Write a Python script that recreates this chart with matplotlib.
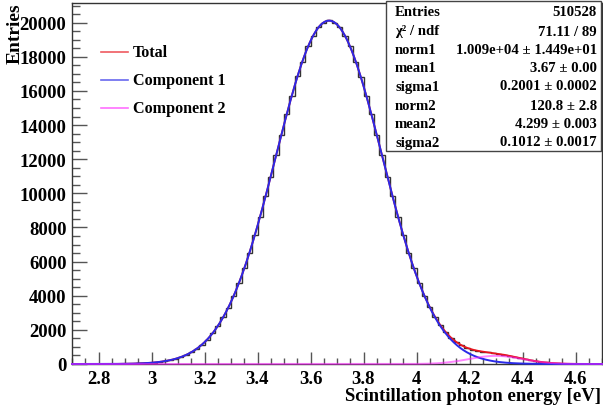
import numpy as np
import matplotlib
matplotlib.use("Agg")
import matplotlib.pyplot as plt
from matplotlib.ticker import MultipleLocator

plt.rcParams['font.family'] = ['Liberation Serif', 'DejaVu Serif']
plt.rcParams['font.weight'] = 'bold'
plt.rcParams['mathtext.fontset'] = 'custom'
plt.rcParams['mathtext.rm'] = 'Liberation Serif:bold'
plt.rcParams['mathtext.it'] = 'Liberation Serif:bold:italic'

# Histogram: 100 bins from 2.7 to 4.7 eV
bin_lo = 2.7
bin_hi = 4.7
counts = [0, 0, 1, 1, 2, 2, 3, 4, 8, 9,
          16, 21, 33, 42, 65, 84, 124, 161, 230, 296,
          408, 520, 695, 879, 1142, 1420, 1808, 2210, 2745, 3300,
          4005, 4730, 5620, 6515, 7580, 8620, 9830, 10960, 12240, 13390,
          14650, 15710, 16850, 17710, 18610, 19190, 19760, 19980, 20150, 19980,
          19750, 19190, 18610, 17720, 16840, 15720, 14640, 13390, 12240, 10960,
          9830, 8620, 7580, 6510, 5630, 4730, 4010, 3330, 2770, 2270,
          1880, 1545, 1300, 1090, 960, 845, 785, 720, 688, 635,
          600, 545, 485, 420, 345, 285, 218, 170, 118, 88,
          55, 38, 21, 14, 8, 5, 2, 1, 1, 0]

# Fit parameters (from stats box)
norm1, mean1, sigma1 = 1.009e4, 3.67, 0.2001
norm2, mean2, sigma2 = 120.8, 4.299, 0.1012

stat_labels = ["Entries", "χ² / ndf", "norm1", "mean1", "sigma1",
               "norm2", "mean2", "sigma2"]
stat_values = ["510528", "71.11 / 89", "1.009e+04 ± 1.449e+01",
               "3.67 ± 0.00", "0.2001 ± 0.0002", "120.8 ± 2.8",
               "4.299 ± 0.003", "0.1012 ± 0.0017"]

legend_labels = ["Total", "Component 1", "Component 2"]

fig = plt.figure(figsize=(6.03, 4.14), dpi=100)
ax = fig.add_axes([72/603, 49/414, 530/603, 361/414])

edges = np.linspace(bin_lo, bin_hi, len(counts) + 1)
ax.stairs(counts, edges, color='#333333', lw=1.0, zorder=2)

xs = np.linspace(bin_lo, bin_hi, 1000)
def gaus(x, n, m, s):
    return n / (np.sqrt(2 * np.pi) * s) * np.exp(-0.5 * ((x - m) / s) ** 2)
c1 = gaus(xs, norm1, mean1, sigma1)
c2 = gaus(xs, norm2, mean2, sigma2)
ax.plot(xs, c1 + c2, color='#e8141e', lw=1.3, zorder=3, clip_on=False)
ax.plot(xs, c1, color='#2a2ae8', lw=1.4, zorder=4, clip_on=False)
ax.plot(xs, c2, color='#ff22ff', lw=1.4, alpha=0.55, zorder=5, clip_on=False)

ax.set_xlim(bin_lo, bin_hi)
ax.set_ylim(0, 21150)
ax.xaxis.set_major_locator(MultipleLocator(0.2))
ax.xaxis.set_minor_locator(MultipleLocator(0.05))
ax.yaxis.set_major_locator(MultipleLocator(2000))
ax.yaxis.set_minor_locator(MultipleLocator(500))
ax.tick_params(axis='x', which='major', direction='in', length=8.6, width=1,
               labelsize=13.5, color='#555555', pad=4)
ax.tick_params(axis='x', which='minor', direction='in', length=4.3, width=1,
               color='#555555')
ax.tick_params(axis='y', which='major', direction='in', length=10.8, width=1,
               labelsize=13.5, color='#555555', pad=4)
ax.tick_params(axis='y', which='minor', direction='in', length=5.8, width=1,
               color='#555555')
ax.tick_params(top=False, right=False, which='both')
ax.set_xticks([2.8, 3.0, 3.2, 3.4, 3.6, 3.8, 4.0, 4.2, 4.4, 4.6])
ax.set_xticklabels(["2.8", "3", "3.2", "3.4", "3.6", "3.8", "4", "4.2", "4.4", "4.6"])
for lab in ax.get_xticklabels() + ax.get_yticklabels():
    lab.set_fontweight('bold')
for sp in ax.spines.values():
    sp.set_linewidth(1.0)
    sp.set_color('#333333')

fig.text(601/603, 17/414, "Scintillation photon energy [eV]",
         ha='right', va='center', fontsize=13.5, fontweight='bold')
fig.text(15/603, 411/414, "Entries", ha='center', va='top', rotation=90,
         fontsize=14, fontweight='bold')

# Legend
leg_cols = ['#e8141e', '#2a2ae8', '#ff33ff']
for i, (lab, col) in enumerate(zip(legend_labels, leg_cols)):
    y = (414 - (53 + 28 * i)) / 414
    fig.add_artist(plt.Line2D([101/603, 128/603], [y, y], color=col, lw=1.2,
                              alpha=0.7))
    fig.text(133/603, y, lab, ha='left', va='center', fontsize=11.6,
             fontweight='bold')

# Stats box
bx0, by0, bx1, by1 = 386/603, (414 - 152)/414, 601/603, (414 - 2)/414
fig.add_artist(plt.Rectangle((bx0, by0), bx1 - bx0, by1 - by0, fill=True,
                             facecolor='white', edgecolor='#444444', lw=1.0,
                             zorder=10))
rows_y = [13, 32, 51, 69, 87, 106, 125, 143]
for lab, val, yy in zip(stat_labels, stat_values, rows_y):
    fy = (414 - yy) / 414
    fig.text(395/603, fy, lab, ha='left', va='center', fontsize=10.6,
             fontweight='bold', zorder=11)
    fig.text(597/603, fy, val, ha='right', va='center', fontsize=10.6,
             fontweight='bold', zorder=11)

fig.savefig("out.png", dpi=100)
